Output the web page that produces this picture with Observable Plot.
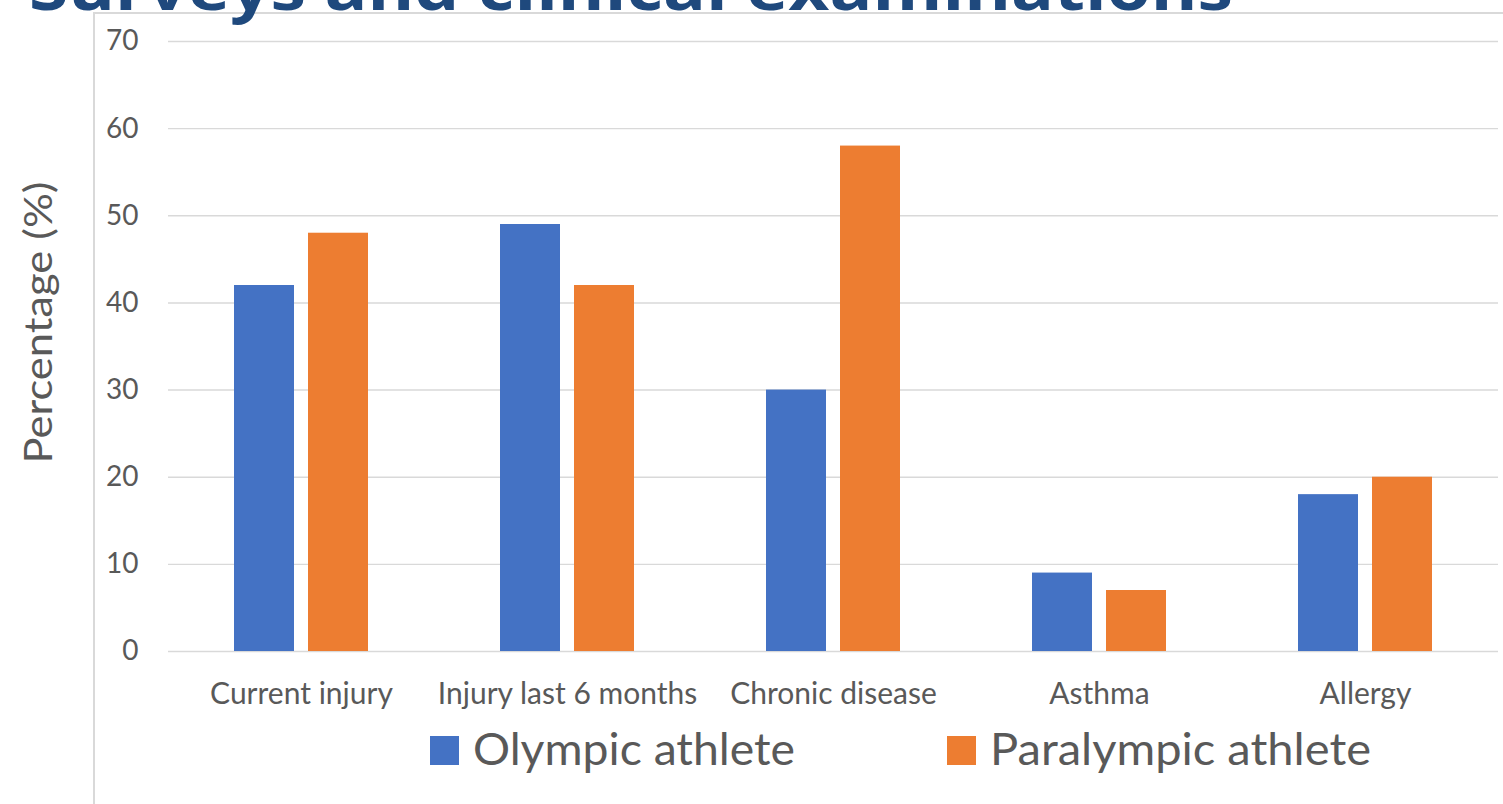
<!DOCTYPE html>
<html>
<head>
<meta charset="utf-8">
<script src="https://cdn.jsdelivr.net/npm/d3@7"></script>
<script src="https://cdn.jsdelivr.net/npm/@observablehq/plot@0.6"></script>
<style>
  html, body { margin: 0; padding: 0; background: #fff; }
  body { width: 1503px; height: 804px; overflow: hidden; position: relative; }
  #title { height: 12px; position: relative; z-index: 3; }
  #title svg { display: block; overflow: visible; }
  #chart { position: relative; height: 708px; }
  #chart .box { position: absolute; left: 93px; top: 0; width: 1500px; height: 900px;
                border-left: 2px solid #d9d9d9; border-top: 2px solid #d9d9d9; z-index: 0; }
  #chart svg { position: relative; z-index: 1; display: block; }
  #legend svg { display: block; }
</style>
</head>
<body>
<div id="title"></div>
<div id="chart"><div class="box"></div></div>
<div id="legend"></div>
<script>
// Health problems reported in surveys and clinical examinations
const titleText = "Surveys and clinical examinations";
const categories = ["Current injury", "Injury last 6 months", "Chronic disease", "Asthma", "Allergy"];
const series = ["Olympic athlete", "Paralympic athlete"];
const olympic = [42, 49, 30, 9, 18];
const paralympic = [48, 42, 58, 7, 20];
const yTicks = [0, 10, 20, 30, 40, 50, 60, 70];
const yLabel = "Percentage (%)";
const colors = ["#4472C4", "#ED7D31"];

const rows = categories.flatMap((c, i) => [
  {category: c, series: series[0], value: olympic[i]},
  {category: c, series: series[1], value: paralympic[i]}
]);

const svgNS = "http://www.w3.org/2000/svg";

// Title, cut off by the top of the slide
{
  const svg = document.createElementNS(svgNS, "svg");
  svg.setAttribute("width", 1503);
  svg.setAttribute("height", 12);
  const t = document.createElementNS(svgNS, "text");
  t.setAttribute("x", 29);
  t.setAttribute("y", 10);
  t.setAttribute("font-family", "'Open Sans', sans-serif");
  t.setAttribute("font-weight", "700");
  t.setAttribute("font-size", 60);
  t.setAttribute("fill", "#1F497D");
  t.setAttribute("textLength", 1204);
  t.setAttribute("lengthAdjust", "spacingAndGlyphs");
  t.textContent = titleText;
  svg.appendChild(t);
  document.getElementById("title").appendChild(svg);
}

const chart = Plot.plot({
  width: 1503,
  height: 708,
  marginLeft: 167,
  marginRight: 5,
  marginTop: 29,
  marginBottom: 69,
  style: {fontFamily: "Lato, sans-serif", background: "transparent", overflow: "visible"},
  fx: {domain: categories, padding: 0, label: null},
  x: {domain: series, paddingInner: 0.19, paddingOuter: 0.89, axis: null},
  y: {domain: [0, 70]},
  color: {domain: series, range: colors},
  marks: [
    Plot.ruleY(yTicks, {stroke: "#d9d9d9", strokeWidth: 1.4}),
    Plot.barY(rows, {fx: "category", x: "series", y: "value", fill: "series"}),
    Plot.axisY({ticks: yTicks, tickSize: 0, tickPadding: 30, fontSize: 28, color: "#595959", label: null}),
    Plot.axisFx({anchor: "bottom", tickSize: 0, tickPadding: 31, fontSize: 30, color: "#595959", label: null}),
    Plot.text([yLabel], {
      frameAnchor: "left", facetAnchor: "left", rotate: -90, textAnchor: "middle",
      dx: -129, dy: -24, fontSize: 38, fill: "#595959"
    })
  ]
});
d3.select(chart).selectAll("text")
  .filter(function() { return this.textContent === yLabel; })
  .attr("textLength", 282)
  .attr("lengthAdjust", "spacingAndGlyphs");
document.getElementById("chart").appendChild(chart);

// Legend below the chart
{
  const svg = d3.create("svg").attr("width", 1503).attr("height", 84);
  const items = [
    {name: series[0], color: colors[0], sx: 430, tx: 473, len: 322},
    {name: series[1], color: colors[1], sx: 947, tx: 990, len: 381}
  ];
  for (const it of items) {
    svg.append("rect").attr("x", it.sx).attr("y", 16).attr("width", 29).attr("height", 29).attr("fill", it.color);
    svg.append("text").attr("x", it.tx).attr("y", 45)
      .attr("font-family", "Lato, sans-serif").attr("font-size", 44).attr("fill", "#595959")
      .attr("textLength", it.len).attr("lengthAdjust", "spacingAndGlyphs")
      .text(it.name);
  }
  document.getElementById("legend").appendChild(svg.node());
}
</script>
</body>
</html>
